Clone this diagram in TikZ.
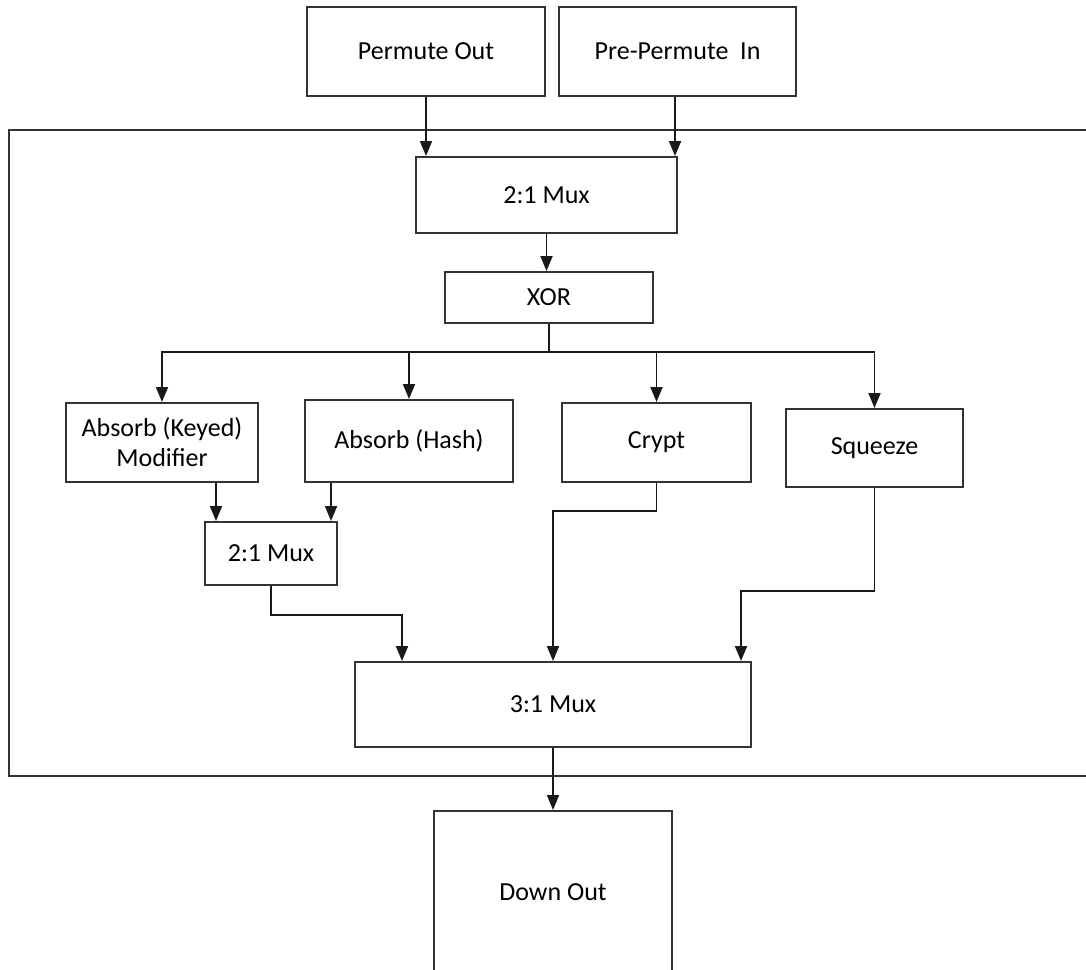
\documentclass[tikz,border=0pt]{standalone}
\usepackage{fontspec}
\setmainfont{Carlito}
\usetikzlibrary{arrows.meta}

\tikzset{
  blk/.style={draw=black!80, line width=2pt, inner sep=0pt, align=center,
              font=\fontsize{26}{30}\selectfont},
  arr/.style={draw=black!90, line width=1.9pt,
              -{Triangle[length=15pt,width=12pt]}},
  wire/.style={draw=black!90, line width=1.9pt},
}

\begin{document}
\begin{tikzpicture}[x=1pt, y=-1pt]
  \useasboundingbox (0,0) rectangle (1086,969);
  \begin{scope}
    \clip (0,0) rectangle (1086,969);

    % enclosing module frame (runs off to the right)
    \draw[wire, draw=black!80] (9,130) rectangle (1100,776);

    % inputs
    \node[blk, minimum width=238pt, minimum height=89pt] (pout) at (426,51.5) {Permute Out};
    \node[blk, minimum width=237pt, minimum height=89pt] (pin)  at (677.5,51.5) {Pre-Permute\ \ In};

    % input mux and xor
    \node[blk, minimum width=261pt, minimum height=76pt] (mux1) at (546.5,195) {2:1 Mux};
    \node[blk, minimum width=208pt, minimum height=51pt] (xor)  at (549,297.5) {XOR};

    % operation blocks
    \node[blk, minimum width=192pt, minimum height=79pt] (akm)   at (162,442.5) {Absorb (Keyed)\\Modifier};
    \node[blk, minimum width=208pt, minimum height=82pt] (ah)    at (409,441) {Absorb (Hash)};
    \node[blk, minimum width=189pt, minimum height=79pt] (crypt) at (656.5,442.5) {Crypt};
    \node[blk, minimum width=177pt, minimum height=78pt] (sq)    at (874.5,448) {Squeeze};

    % absorb mux, output mux and output
    \node[blk, minimum width=132pt, minimum height=63pt] (mux2) at (271,553.5) {2:1 Mux};
    \node[blk, minimum width=396pt, minimum height=85pt] (mux3) at (553,704.5) {3:1 Mux};
    \node[blk, minimum width=238pt, minimum height=162pt] (dout) at (553,892) {Down Out};

    % inputs into the 2:1 mux
    \draw[arr] (pout.south) -- (pout.south |- mux1.north);
    \draw[arr] ([xshift=-2.5pt]pin.south) -- ([xshift=-2.5pt]pin.south |- mux1.north);

    % mux to xor
    \draw[arr] (mux1.south) -- (mux1.south |- xor.north);

    % xor fan-out bus
    \draw[arr] (xor.south) -- ++(0,28) -| (akm.north);
    \draw[arr] (xor.south) -- ++(0,28) -| (ah.north);
    \draw[arr] (xor.south) -- ++(0,28) -| (crypt.north);
    \draw[arr] (xor.south) -- ++(0,28) -| (sq.north);

    % absorb paths into the small mux
    \draw[arr] ([xshift=12pt]mux2.north west |- akm.south) -- ([xshift=12pt]mux2.north west);
    \draw[arr] ([xshift=-7pt]mux2.north east |- ah.south) -- ([xshift=-7pt]mux2.north east);

    % paths into the 3:1 mux
    \draw[arr] (mux2.south) -- ++(0,29) -| ([xshift=48pt]mux3.north west);
    \draw[arr] (crypt.south) -- ++(0,28) -| (mux3.north);
    \draw[arr] (sq.south) -- ++(0,103) -| ([xshift=-11pt]mux3.north east);

    % output
    \draw[arr] (mux3.south) -- (mux3.south |- dout.north);
  \end{scope}
\end{tikzpicture}
\end{document}
